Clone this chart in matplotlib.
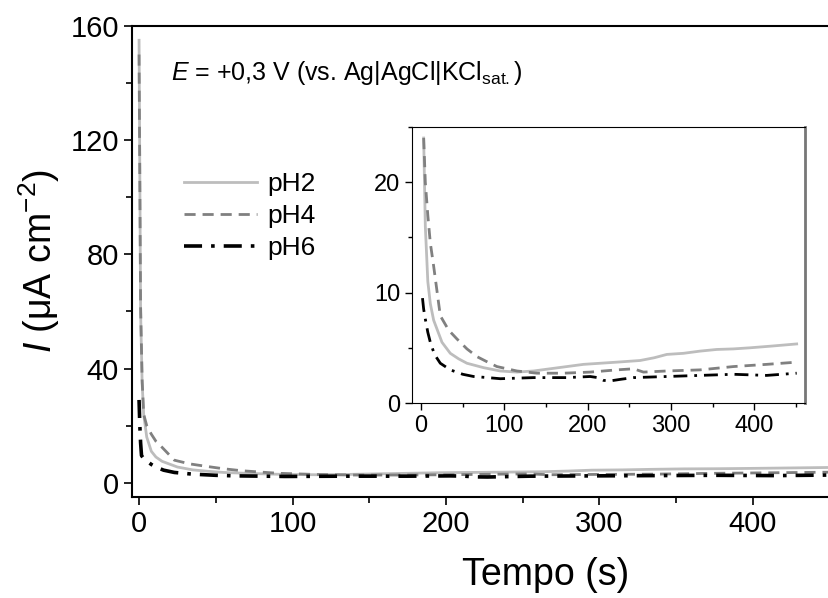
import matplotlib.pyplot as plt
from matplotlib.ticker import MultipleLocator

plt.rcParams['font.family'] = ['Liberation Sans', 'DejaVu Sans']
plt.rcParams['mathtext.fontset'] = 'custom'
plt.rcParams['mathtext.rm'] = 'Liberation Sans'
plt.rcParams['mathtext.it'] = 'Liberation Sans:italic'

# dados (tempo em s, I em uA cm-2)
t_ph2 = [0, 1, 2, 3, 5, 8, 11, 15, 19, 25, 35, 45, 55, 75, 95, 115, 135, 155,
         175, 195, 215, 235, 263, 280, 295, 315, 335, 355, 375, 395, 420, 451]
i_ph2 = [155, 60, 35, 24, 16, 11, 9, 7.5, 6.7, 5.5, 4.5, 4.0, 3.6, 3.2, 2.9, 2.8, 2.9, 3.1,
         3.3, 3.5, 3.6, 3.7, 3.85, 4.1, 4.4, 4.5, 4.7, 4.85, 4.9, 5.0, 5.15, 5.35]

t_ph4 = [0, 1, 2, 3, 5, 8, 11, 15, 23, 33, 43, 55, 67, 80, 91, 103, 115, 139, 171,
         203, 235, 255, 267, 295, 335, 375, 415, 451]
i_ph4 = [150, 62, 36, 24, 20, 17, 14.5, 12.4, 7.9, 6.6, 5.8, 4.9, 4.2, 3.7, 3.3, 3.1, 2.9, 2.7, 2.7,
         2.8, 3.0, 3.1, 2.8, 2.9, 3.0, 3.3, 3.5, 3.7]

t_ph6 = [0, 0.5, 1.0, 1.6, 3, 5, 8, 11, 16, 23, 35, 50, 63, 80, 95, 135, 175, 203, 212, 219,
         227, 240, 255, 295, 335, 375, 415, 451]
i_ph6 = [29, 20, 14, 9.5, 8.5, 7.6, 6.4, 5.5, 4.4, 3.6, 3.0, 2.6, 2.4, 2.3, 2.2, 2.3, 2.3, 2.4, 2.3, 2.05,
         2.0, 2.15, 2.3, 2.4, 2.5, 2.6, 2.5, 2.7]

# o inset comeca no primeiro ponto registado abaixo do topo
k2, k4, k6 = t_ph2.index(3), t_ph4.index(3), t_ph6.index(1.6)

dashdot = (0, (5, 2.5, 1, 2.5))

fig = plt.figure(figsize=(8.29, 5.98), dpi=100)
W, H = 829, 598

ax = fig.add_axes([132 / W, 1 - 497 / H, (845 - 132) / W, (497 - 26) / H])
ax.plot(t_ph2, i_ph2, color='#bdbdbd', lw=2, label='pH2')
ax.plot(t_ph4, i_ph4, color='#808080', lw=2, ls=(0, (4, 2.5)), label='pH4')
ax.plot(t_ph6, i_ph6, color='black', lw=2.6, ls=dashdot, label='pH6')
ax.set_xlim(-4.6, 460)
ax.set_ylim(-5, 160)
ax.xaxis.set_major_locator(MultipleLocator(100))
ax.xaxis.set_minor_locator(MultipleLocator(50))
ax.yaxis.set_major_locator(MultipleLocator(40))
ax.yaxis.set_minor_locator(MultipleLocator(20))
ax.tick_params(which='both', direction='out', labelsize=21, width=1.2)
ax.tick_params(which='major', length=6)
ax.tick_params(which='minor', length=4)
ax.spines['right'].set_visible(False)
for s in ['left', 'bottom', 'top']:
    ax.spines[s].set_linewidth(1.5)
ax.set_xlabel('Tempo (s)', fontsize=27)
ax.xaxis.set_label_coords(0.58, -0.127)
ax.set_ylabel('$I$ (μA cm$^{-2}$)', fontsize=27, labelpad=6)
ax.text(0.055, 0.885, '$E$ = +0,3 V (vs. Ag|AgCl|KCl$_{\\mathrm{sat.}}$)',
        transform=ax.transAxes, fontsize=18)
ax.legend(loc='upper left', bbox_to_anchor=(0.04, 0.74), frameon=False, fontsize=19,
          handlelength=2.75, handletextpad=0.4, labelspacing=0.3)

ins = fig.add_axes([412 / W, 1 - 403 / H, (805 - 412) / W, (403 - 127) / H])
ins.plot(t_ph2[k2:], i_ph2[k2:], color='#bdbdbd', lw=2)
ins.plot(t_ph4[k4:], i_ph4[k4:], color='#808080', lw=2, ls=(0, (4, 2.5)))
ins.plot(t_ph6[k6:], i_ph6[k6:], color='black', lw=2, ls=dashdot)
ins.set_xlim(-11, 461)
ins.set_ylim(0, 25)
ins.xaxis.set_major_locator(MultipleLocator(100))
ins.xaxis.set_minor_locator(MultipleLocator(50))
ins.yaxis.set_major_locator(MultipleLocator(10))
ins.yaxis.set_minor_locator(MultipleLocator(5))
ins.tick_params(which='both', direction='out', labelsize=17, width=1)
ins.tick_params(which='major', length=5)
ins.tick_params(which='minor', length=3)
ins.spines['right'].set_color('#777777')
ins.spines['right'].set_linewidth(2)

fig.savefig('out.png', dpi=100)
